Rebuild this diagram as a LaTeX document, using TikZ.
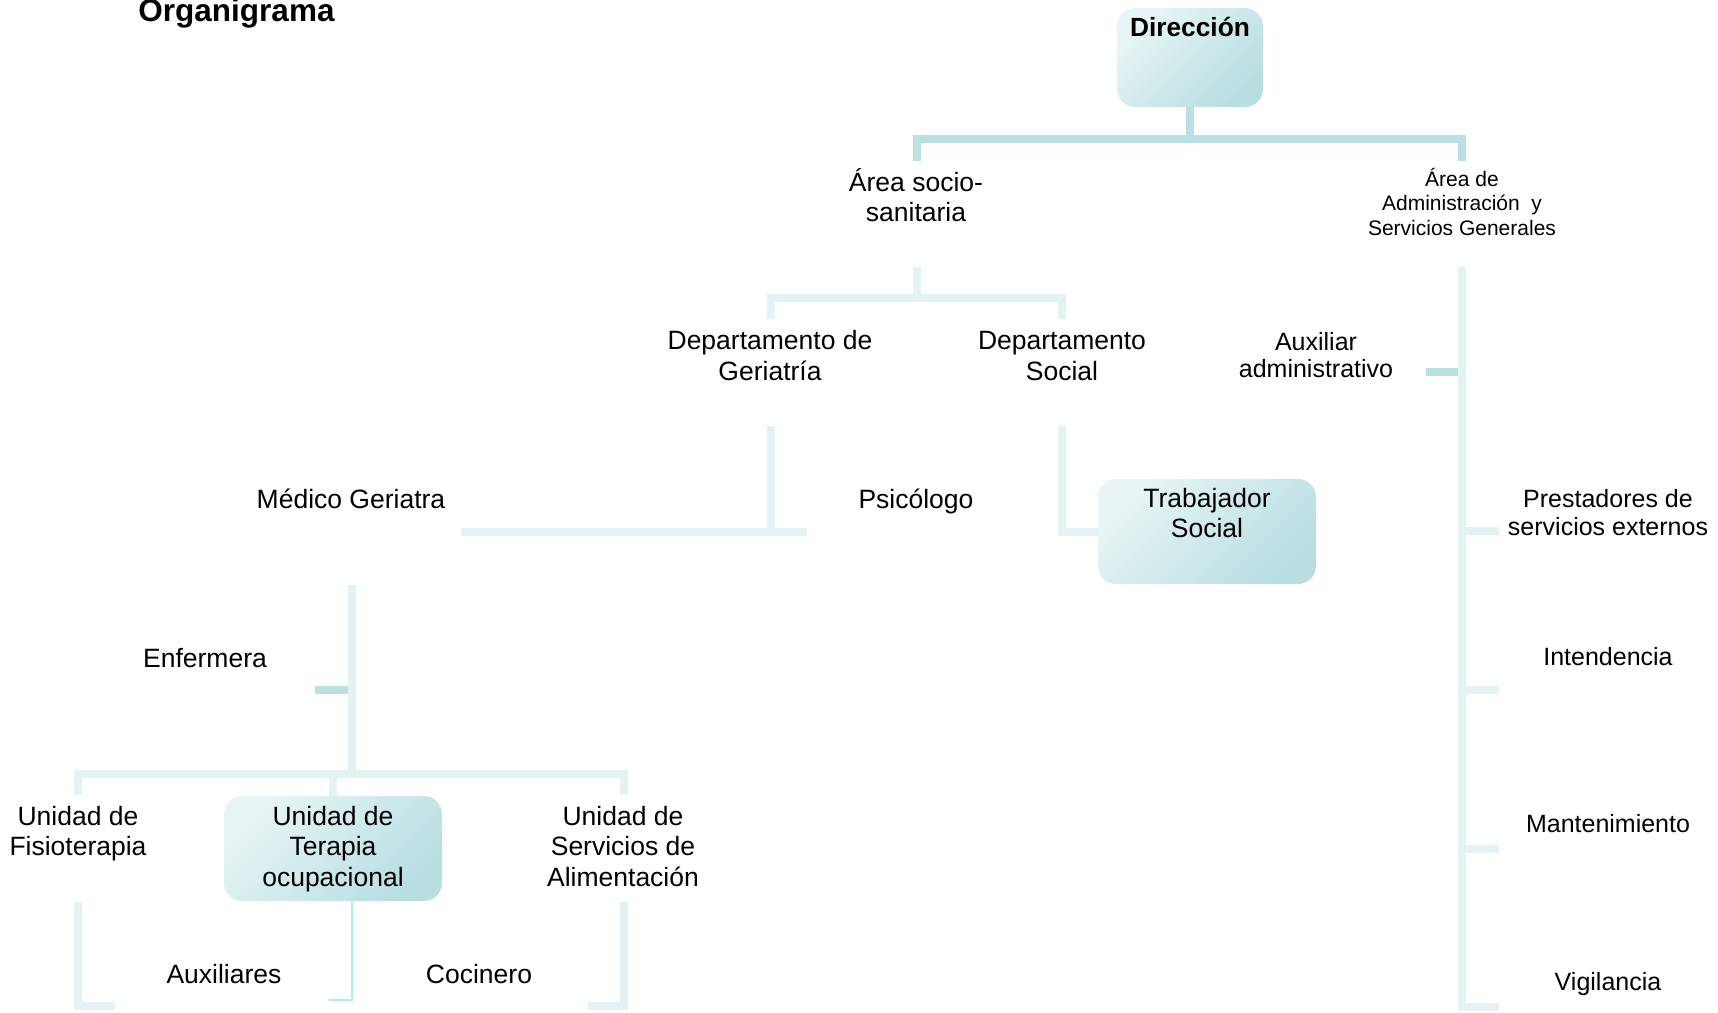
\documentclass[tikz,border=0pt]{standalone}
\usepackage{fontspec}
\setmainfont{Liberation Sans}
\definecolor{darkline}{RGB}{185,224,227}
\definecolor{lightline}{RGB}{227,243,244}
\definecolor{thinline}{RGB}{172,238,243}
\definecolor{boxlight}{RGB}{232,245,246}
\definecolor{boxdark}{RGB}{184,222,225}
\begin{document}
\begin{tikzpicture}[x=1pt,y=-1pt,
  conn/.style={line width=8pt},
  dk/.style={conn,draw=darkline},
  lt/.style={conn,draw=lightline},
  thinln/.style={line width=1.5pt,draw=thinline},
  box/.style={rounded corners=18pt, top color=boxlight, bottom color=boxdark, shading angle=45, inner sep=0pt, draw=none},
  lbl/.style={align=center, inner sep=0pt, anchor=base, font=\fontsize{26.5}{30.5}\selectfont},
  lblr/.style={align=center, inner sep=0pt, anchor=base, font=\fontsize{25}{28}\selectfont},
]
\useasboundingbox (0,0) rectangle (1718,1012);

% boxes
\node[box, minimum width=146pt, minimum height=99pt] (dir) at (1190,57.5) {};
\node[box, minimum width=218pt, minimum height=105pt] (trabbox) at (1207,531.5) {};
\node[box, minimum width=218pt, minimum height=105pt] (terbox) at (333,848.5) {};

% texts (anchor base = baseline of the last line)
\node[lbl, font=\fontsize{31.5}{36}\selectfont\bfseries] (title) at (236.5,21) {Organigrama};
\node[lbl, font=\fontsize{26.3}{30}\selectfont\bfseries] (dirtxt) at (1190,36.5) {Dirección};
\node[lbl] (asoc) at (916,221.5) {Área socio-\\sanitaria};
\node[lbl, font=\fontsize{21}{24.5}\selectfont] (aadm) at (1462,235) {Área de\\Administración\ \ y\\Servicios Generales};
\node[lbl] (dger) at (770,380) {Departamento de\\Geriatría};
\node[lbl] (dsoc) at (1062,380) {Departamento\\Social};
\node[lblr, font=\fontsize{25}{27.5}\selectfont] (auxadm) at (1316,377.5) {Auxiliar\\administrativo};
\node[lbl] (medico) at (351,508) {Médico Geriatra};
\node[lbl] (psico) at (916,508) {Psicólogo};
\node[lbl] (trab) at (1207,537.5) {Trabajador\\Social};
\node[lbl] (enf) at (205,667) {Enfermera};
\node[lbl] (fisio) at (78,855.5) {Unidad de\\Fisioterapia};
\node[lbl] (terap) at (333,886) {Unidad de\\Terapia\\ocupacional};
\node[lbl] (alim) at (623,886) {Unidad de\\Servicios de\\Alimentación};
\node[lbl] (aux) at (224,983) {Auxiliares};
\node[lbl] (coc) at (479,983) {Cocinero};
\node[lblr] (prest) at (1608,535) {Prestadores de\\servicios externos};
\node[lblr] (inten) at (1608,665) {Intendencia};
\node[lblr] (mant) at (1608,832) {Mantenimiento};
\node[lblr] (vig) at (1608,990) {Vigilancia};

% junction coordinates
\coordinate (dirj) at (1190,143);
\coordinate (topl) at (917,139);
\coordinate (topr) at (1462,139);
\coordinate (asocin) at (917,161);
\coordinate (aadmin) at (1462,161);
\coordinate (asocout) at (917,267);
\coordinate (asocj) at (917,298);
\coordinate (dgerj) at (771,298);
\coordinate (dsocj) at (1062,298);
\coordinate (dgerin) at (771,319);
\coordinate (dsocin) at (1062,319);
\coordinate (dgerout) at (771,426);
\coordinate (dgerj2) at (771,531.5);
\coordinate (medicoin) at (461,531.5);
\coordinate (psicoin) at (807,531.5);
\coordinate (dsocout) at (1062,426);
\coordinate (dsocj2) at (1062,531.5);
\coordinate (medicoout) at (352,585);
\coordinate (medicoj) at (352,774);
\coordinate (enfin) at (315,690);
\coordinate (enfj) at (348,690);
\coordinate (fisioj) at (78,774);
\coordinate (alimj) at (624,774);
\coordinate (terapj) at (333,774);
\coordinate (fisioin) at (78,795);
\coordinate (alimin) at (624,795);
\coordinate (fisioout) at (78,902);
\coordinate (fisioj2) at (78,1006);
\coordinate (auxin) at (115,1006);
\coordinate (alimout) at (624,902);
\coordinate (alimj2) at (624,1006);
\coordinate (cocin) at (588,1006);
\coordinate (terout) at (352,901);
\coordinate (terj) at (352,1000);
\coordinate (auxin2) at (329,1000);
\coordinate (aadmout) at (1462,267);
\coordinate (vigj) at (1462,1007);
\coordinate (vigin) at (1499,1007);
\coordinate (prestj) at (1462,531);
\coordinate (prestin) at (1499,531);
\coordinate (intenj) at (1462,690);
\coordinate (intenin) at (1499,690);
\coordinate (mantj) at (1462,849);
\coordinate (mantin) at (1499,849);
\coordinate (auxadmin) at (1426,372);
\coordinate (auxadmj) at (1458,372);

% dark top connectors
\draw[dk] (dir.south) -- (dirj);
\draw[dk] (asocin) -- (topl) -- (topr) -- (aadmin);

% light connectors
\draw[lt] (asocout) -- (asocj);
\draw[lt] (dgerin) -- (dgerj) -- (dsocj) -- (dsocin);
\draw[lt] (dgerout) -- (dgerj2);
\draw[lt] (medicoin) -- (psicoin);
\draw[lt] (dsocout) -- (dsocj2) -- (trabbox.west);
\draw[lt] (medicoout) -- (medicoj);
\draw[lt] (fisioin) -- (fisioj) -- (alimj) -- (alimin);
\draw[lt] (terapj) -- (terbox.north);
\draw[lt] (fisioout) -- (fisioj2) -- (auxin);
\draw[lt] (alimout) -- (alimj2) -- (cocin);
\draw[thinln] (terout) -- (terj) -- (auxin2);
\draw[lt] (aadmout) -- (vigj) -- (vigin);
\draw[lt] (prestj) -- (prestin);
\draw[lt] (intenj) -- (intenin);
\draw[lt] (mantj) -- (mantin);

% dark stubs
\draw[dk] (enfin) -- (enfj);
\draw[dk] (auxadmin) -- (auxadmj);
\end{tikzpicture}
\end{document}
